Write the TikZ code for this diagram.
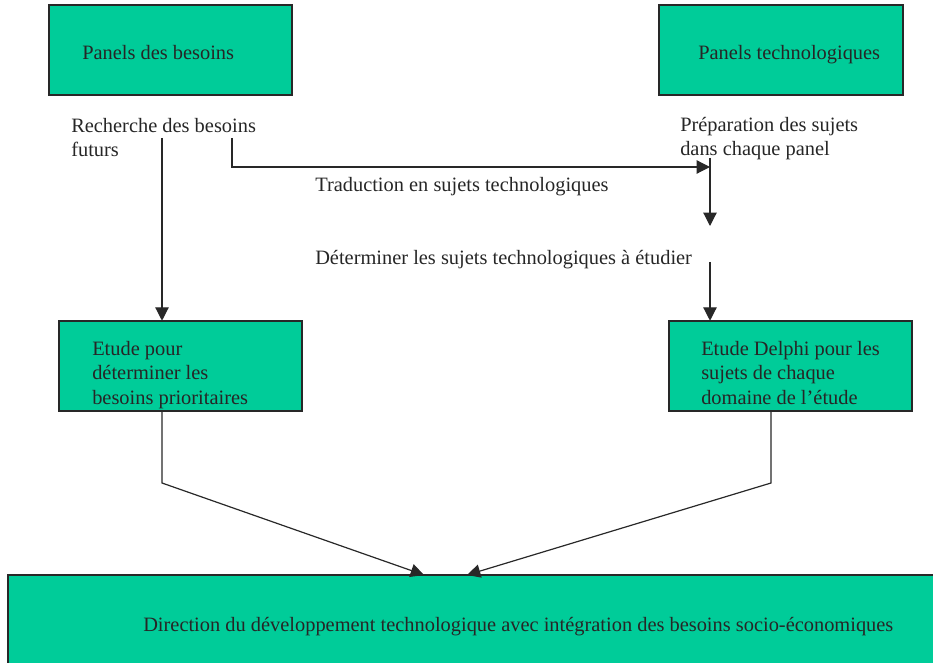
\documentclass[tikz,border=0pt]{standalone}
\usepackage{fontspec}
\setmainfont{Liberation Serif}
\usetikzlibrary{arrows.meta}
\definecolor{panelgreen}{RGB}{0,204,153}
\definecolor{inkgray}{RGB}{40,40,40}
\tikzset{
  greenbox/.style={draw=inkgray, line width=0.9pt, fill=panelgreen, inner sep=0pt},
  txt/.style={anchor=base west, inner sep=0pt, align=left, font=\fontsize{15.3}{18.3}\selectfont, text=black!85},
  flow/.style={draw=inkgray, line width=0.9pt},
  tip/.style={-{Triangle[width=10pt,length=10pt]}}
}
\begin{document}
\begin{tikzpicture}[x=0.75pt,y=-0.75pt]
\useasboundingbox (0,0) rectangle (933,663);

% boxes (corner to corner, pixel grid, y downwards)
\path[greenbox] (49,5) rectangle (292,95);
\node[inner sep=0pt, minimum width=243*0.75pt, minimum height=90*0.75pt] (pb) at (170.5,50) {};
\path[greenbox] (659,5) rectangle (903,95);
\node[inner sep=0pt, minimum width=244*0.75pt, minimum height=90*0.75pt] (pt) at (781,50) {};
\path[greenbox] (59,321) rectangle (302,411);
\node[inner sep=0pt, minimum width=243*0.75pt, minimum height=90*0.75pt] (eb) at (180.5,366) {};
\path[greenbox] (669,321) rectangle (912,411);
\node[inner sep=0pt, minimum width=243*0.75pt, minimum height=90*0.75pt] (ed) at (790.5,366) {};
\path[greenbox] (8,575) rectangle (945,675);
\node[inner sep=0pt, minimum width=937*0.75pt, minimum height=100*0.75pt] (dir) at (476.5,625) {};

% texts (multi-line nodes sit on the baseline of their last line)
\node[txt] (tpb) at (82,60) {Panels des besoins};
\node[txt] (tpt) at (698,60) {Panels technologiques};
\node[txt] (rech) at (71,157) {Recherche des besoins\\futurs};
\node[txt] (prep) at (680,156) {Préparation des sujets\\dans chaque panel};
\node[txt] (trad) at (315,192) {Traduction en sujets technologiques};
\node[txt] (det) at (315,265) {Déterminer les sujets technologiques à étudier};
\node[txt] (teb) at (92,404) {Etude pour\\déterminer les\\besoins prioritaires};
\node[txt] (ted) at (701,404) {Etude Delphi pour les\\sujets de chaque\\domaine de l’étude};
\node[txt] (tdir) at (143,631) {Direction du développement technologique avec intégration des besoins socio-économiques};

% connector end points
\coordinate (a1) at (162,138);
\coordinate (b1) at (232,138);
\coordinate (b2) at (710,167);
\coordinate (c1) at (710,158);
\coordinate (c2) at (710,226);
\coordinate (d1) at (710,262);
\coordinate (e1) at (162,483);
\coordinate (e2) at (424,575);
\coordinate (f1) at (771,483);
\coordinate (f2) at (467,575);

% connectors
\draw[flow,tip] (a1) -- (eb.north -| a1);
\draw[flow,tip] (b1) |- (b2);
\draw[flow,tip] (c1) -- (c2);
\draw[flow,tip] (d1) -- (ed.north -| d1);
\draw[flow,tip] (eb.south -| e1) -- (e1) -- (e2);
\draw[flow,tip] (ed.south -| f1) -- (f1) -- (f2);
\end{tikzpicture}
\end{document}
